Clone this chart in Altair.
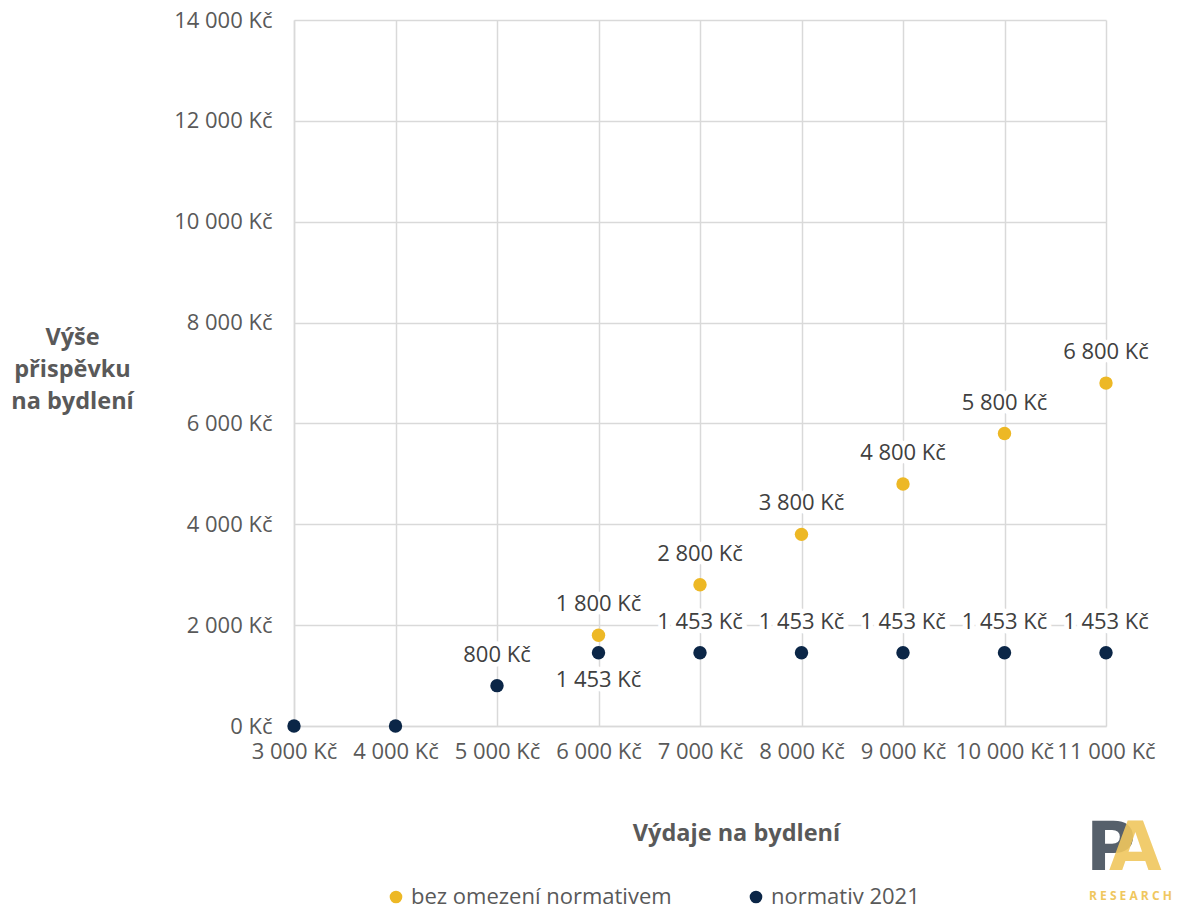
import altair as alt
import pandas as pd

# ---- data ----
expenses = [3000, 4000, 5000, 6000, 7000, 8000, 9000, 10000, 11000]
normativ_2021 = [0, 0, 800, 1453, 1453, 1453, 1453, 1453, 1453]
bez_omezeni_x = [6000, 7000, 8000, 9000, 10000, 11000]
bez_omezeni = [1800, 2800, 3800, 4800, 5800, 6800]
series_names = ["bez omezení normativem", "normativ 2021"]
x_ticks = [3000, 4000, 5000, 6000, 7000, 8000, 9000, 10000, 11000]
y_ticks = [0, 2000, 4000, 6000, 8000, 10000, 12000, 14000]

GOLD = "#edb825"
NAVY = "#0b2647"
GRID = "#d9d9d9"
LABEL = "#595959"
TEXT = "#404040"
FONT = "Open Sans"

rows = []
for x, v in zip(bez_omezeni_x, bez_omezeni):
    rows.append({"x": x, "v": v, "s": series_names[0]})
for x, v in zip(expenses, normativ_2021):
    rows.append({"x": x, "v": v, "s": series_names[1]})
df = pd.DataFrame(rows)

fmt = "replace(format(datum.v, ',d'), ',', ' ') + ' Kč'"
lblexpr = "replace(format(datum.value, ',d'), ',', ' ') + ' Kč'"

base = alt.Chart(df)

xenc = alt.X(
    "x:Q",
    scale=alt.Scale(domain=[3000, 11000], nice=False, zero=False),
    axis=alt.Axis(
        values=x_ticks,
        labelExpr=lblexpr,
        grid=True, gridColor=GRID, gridWidth=1.5,
        domainColor=GRID, domainWidth=1.5,
        ticks=False,
        labelColor=LABEL, labelFontSize=22, labelFont=FONT,
        labelPadding=15, labelFlush=False, labelOverlap=False,
        title="Výdaje na bydlení",
        titleFont=FONT, titleFontSize=23.5, titleFontWeight="bold", titleColor=LABEL,
        titleX=442, titleY=107, titleAlign="center", titleBaseline="middle",
    ),
)
yenc = alt.Y(
    "v:Q",
    scale=alt.Scale(domain=[0, 14000], nice=False),
    axis=alt.Axis(
        values=y_ticks,
        labelExpr=lblexpr,
        grid=True, gridColor=GRID, gridWidth=1.5,
        domainColor=GRID, domainWidth=1.5,
        ticks=False,
        labelColor=LABEL, labelFontSize=22, labelFont=FONT,
        labelPadding=22, labelFlush=False, labelOverlap=False,
        title=["Výše", "přispěvku", "na bydlení"],
        titleFont=FONT, titleFontSize=23.5, titleFontWeight="bold", titleColor=LABEL,
        titleAngle=0, titleX=-222, titleY=305, titleAlign="center",
        titleBaseline="top", titleLineHeight=32,
    ),
)

points = base.mark_circle(size=180, opacity=1).encode(
    x=xenc,
    y=yenc,
    color=alt.Color(
        "s:N",
        scale=alt.Scale(domain=series_names, range=[GOLD, NAVY]),
        legend=alt.Legend(
            title=None, orient="none", legendX=91, legendY=866,
            direction="horizontal", symbolType="circle", symbolSize=160,
            labelFont=FONT, labelFontSize=22, labelColor=LABEL, labelLimit=0,
            labelOffset=4, columnPadding=73,
        ),
    ),
)

above_f = "datum.v > 0 && !(datum.x == 6000 && datum.s == 'normativ 2021')"
below_f = "datum.x == 6000 && datum.s == 'normativ 2021'"


def label_layer(flt, dy, halo):
    props = dict(dy=dy, fontSize=22, font=FONT)
    if halo:
        props.update(color="white", stroke="white", strokeWidth=10, strokeJoin="round")
    else:
        props.update(color=TEXT)
    return base.transform_filter(flt).transform_calculate(lbl=fmt).mark_text(**props).encode(
        x="x:Q", y="v:Q", text="lbl:N"
    )


halo_above = label_layer(above_f, -31, True)
halo_below = label_layer(below_f, 27, True)
labels_above = label_layer(above_f, -31, False)
labels_below = label_layer(below_f, 27, False)

one = "datum.x == 3000 && datum.s == 'normativ 2021'"
logo_p = base.mark_text(
    text="P", font="DejaVu Sans", fontSize=68, fontWeight="bold", color="#56606b",
    align="left", baseline="alphabetic"
).encode(x=alt.value(792), y=alt.value(850)).transform_filter(one)
logo_a = base.mark_text(
    text="A", font="DejaVu Sans", fontSize=68, fontWeight="bold", color="#f0c75e", opacity=0.9,
    align="left", baseline="alphabetic"
).encode(x=alt.value(815), y=alt.value(850)).transform_filter(one)
logo_r = base.mark_text(
    text="R E S E A R C H", font=FONT, fontSize=12, fontWeight="bold", color="#f0c75e",
    align="left", baseline="alphabetic"
).encode(x=alt.value(795), y=alt.value(880)).transform_filter(one)

chart = alt.layer(
    halo_above, halo_below, points, labels_above, labels_below, logo_p, logo_a, logo_r
).properties(
    width=812, height=706,
    padding={"left": 286, "top": 12, "right": 69, "bottom": 186},
    autosize=alt.AutoSizeParams(type="none"),
    background="white",
).configure_view(stroke=None)

chart.save("out.html", embed_options={"renderer": "svg", "actions": False})
